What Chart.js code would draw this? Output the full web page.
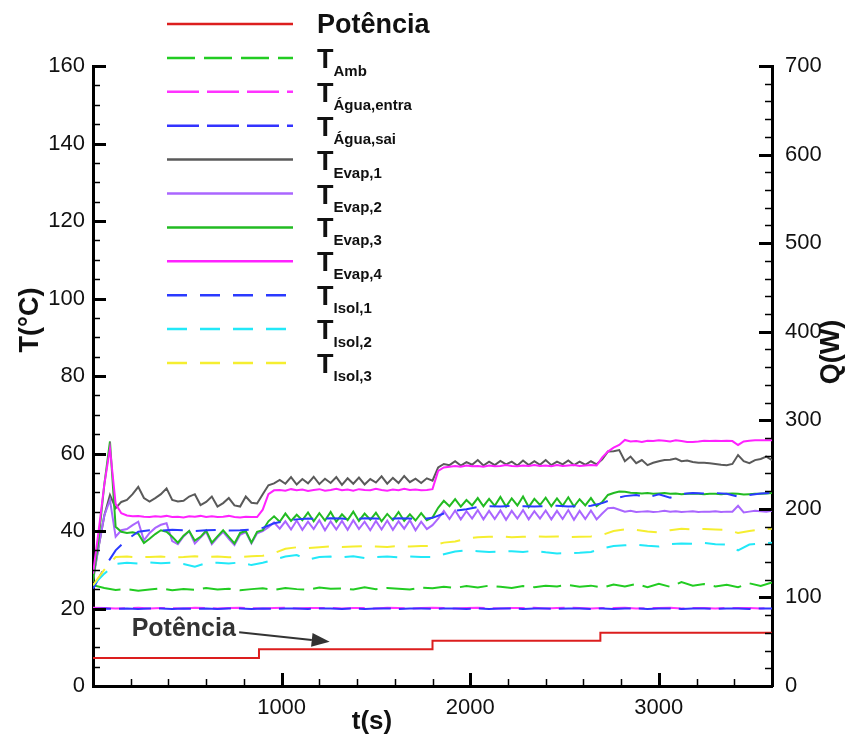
<!DOCTYPE html>
<html>
<head>
<meta charset="utf-8">
<script src="https://cdn.jsdelivr.net/npm/chart.js@4.4.1/dist/chart.umd.min.js"></script>
<style>
  html, body { margin: 0; padding: 0; background: #fff; }
  #wrap { width: 855px; height: 745px; }
</style>
</head>
<body>
<div id="wrap"><canvas id="chart" width="855" height="745"></canvas></div>
<script>
// ========================================
// Dados (t em s, T em °C, Q em W)
// ========================================

// tempos de amostragem
const tFast = [
  0, 30, 60, 90, 120, 150, 180, 210, 240, 270,
  300, 330, 360, 390, 420, 450, 480, 510, 540, 570,
  600, 630, 660, 690, 720, 750, 780, 810, 840, 870,
  900, 930, 960, 990, 1020, 1050, 1080, 1110, 1140, 1170,
  1200, 1230, 1260, 1290, 1320, 1350, 1380, 1410, 1440, 1470,
  1500, 1530, 1560, 1590, 1620, 1650, 1680, 1710, 1740, 1770,
  1800, 1830, 1860, 1890, 1920, 1950, 1980, 2010, 2040, 2070,
  2100, 2130, 2160, 2190, 2220, 2250, 2280, 2310, 2340, 2370,
  2400, 2430, 2460, 2490, 2520, 2550, 2580, 2610, 2640, 2670,
  2700, 2730, 2760, 2790, 2820, 2850, 2880, 2910, 2940, 2970,
  3000, 3030, 3060, 3090, 3120, 3150, 3180, 3210, 3240, 3270,
  3300, 3330, 3360, 3390, 3420, 3450, 3480, 3510, 3540, 3570,
  3600
];
const tSlow = [
  0, 60, 120, 180, 240, 300, 360, 420, 480, 540,
  600, 660, 720, 780, 840, 900, 960, 1020, 1080, 1140,
  1200, 1260, 1320, 1380, 1440, 1500, 1560, 1620, 1680, 1740,
  1800, 1860, 1920, 1980, 2040, 2100, 2160, 2220, 2280, 2340,
  2400, 2460, 2520, 2580, 2640, 2700, 2760, 2820, 2880, 2940,
  3000, 3060, 3120, 3180, 3240, 3300, 3360, 3420, 3480, 3540,
  3600
];
const tPot = [0, 880, 1800, 2690, 3600];

// Potência (W, eixo direito)
const potencia = [31.5, 41.5, 51, 60, 60];

// Temperaturas (°C)
const tAmb = [
  26.0, 25.3, 24.8, 25.0, 24.6, 24.9, 25.2, 24.7, 25.0, 24.8,
  25.3, 24.9, 25.1, 24.7, 25.0, 25.2, 24.8, 25.3, 25.0, 24.9,
  25.4, 25.1, 25.2, 24.9, 25.5, 25.0, 25.3, 25.1, 24.9, 25.4,
  25.2, 25.6, 25.3, 25.8, 25.4, 25.9, 25.6, 25.3, 25.8, 25.5,
  25.9, 25.7, 26.1, 25.6, 25.9, 25.4, 26.2, 25.7, 26.3, 25.5,
  26.4, 25.6, 26.8, 25.9, 26.3, 25.7, 26.1, 25.5, 26.5, 25.8,
  26.7
];
const aguaEntra = [
  20.2, 20.1, 20.0, 20.1, 20.2, 20.0, 20.1, 20.1, 20.0, 20.2,
  20.1, 20.0, 20.1, 20.2, 20.1, 20.0, 20.1, 20.2, 20.0, 20.1,
  20.1, 20.2, 20.0, 20.1, 20.1, 20.0, 20.2, 20.1, 20.0, 20.1,
  20.2, 20.1, 20.0, 20.1, 20.2, 20.1, 20.0, 20.1, 20.1, 20.2,
  20.0, 20.1, 20.2, 20.1, 20.0, 20.1, 20.1, 20.2, 20.0, 20.1,
  20.1, 20.2, 20.0, 20.1, 20.1, 20.0, 20.2, 20.1, 20.1, 20.0,
  20.1
];
const aguaSai = [
  19.9, 20.0, 19.9, 20.0, 19.9, 20.0, 20.0, 19.9, 20.0, 19.9,
  20.0, 19.9, 20.0, 20.0, 19.9, 20.0, 19.9, 20.0, 20.0, 19.9,
  20.0, 20.0, 19.9, 20.0, 19.9, 20.0, 20.0, 19.9, 20.0, 20.0,
  19.9, 20.0, 20.0, 19.9, 20.0, 19.9, 20.0, 20.0, 19.9, 20.0,
  20.0, 19.9, 20.0, 20.0, 19.9, 20.0, 19.9, 20.0, 20.0, 19.9,
  20.0, 20.0, 19.9, 20.0, 20.0, 19.9, 20.0, 20.0, 19.9, 20.0,
  20.0
];
const evap1 = [
  28, 36, 44, 49.3, 45.9, 47.5, 48.0, 49.5, 51.4, 48.5,
  47.6, 48.5, 49.5, 51.0, 48.0, 47.6, 47.8, 48.9, 49.5, 46.7,
  47.5, 48.9, 46.3, 47.2, 48.5, 46.6, 46.3, 48.9, 47.3, 47.1,
  49.5, 51.8, 52.3, 53.2, 52.2, 53.9, 52.0, 53.4, 52.3, 54.0,
  52.1, 53.5, 52.4, 53.9, 51.9, 53.6, 52.2, 53.8, 52.0, 53.4,
  52.5, 54.1, 52.2, 53.7, 52.4, 54.2, 52.6, 53.5, 52.4, 53.6,
  53.0, 56.4, 57.3, 57.0, 58.0, 56.9, 57.8, 57.1, 58.3, 56.9,
  57.9, 57.0, 58.1, 57.2, 57.9, 56.9, 58.2, 57.0, 58.0, 57.1,
  58.3, 57.0, 57.9, 57.2, 58.2, 57.0, 57.9, 57.1, 58.0, 57.2,
  58.5, 60.5, 60.6, 60.9, 58.0, 59.2, 57.5, 58.3, 57.0, 57.6,
  58.0, 58.3, 58.4, 58.7, 58.0, 58.2, 57.8, 57.6, 57.6, 57.5,
  57.3, 57.1, 57.0, 57.3, 59.6, 58.0, 57.5, 58.3, 58.6, 59.2,
  58.3
];
const evap2 = [
  27, 36, 44, 48.0, 38.5, 40.2, 40.5, 41.5, 42.4, 37.6,
  39.5, 40.8, 41.6, 42.0, 37.4, 36.6, 38.6, 40.0, 36.8, 38.3,
  39.8, 36.6, 38.3, 39.8, 38.0, 36.4, 39.0, 39.7, 36.8, 39.4,
  40.0, 41.0, 42.2, 40.6, 42.5, 40.4, 42.7, 40.3, 42.4, 40.5,
  42.8, 40.2, 42.5, 40.4, 42.6, 40.3, 42.8, 40.5, 42.4, 40.2,
  42.6, 40.4, 42.7, 40.3, 42.5, 40.6, 42.8, 40.2, 42.4, 40.5,
  41.5, 43.2, 45.2, 43.1, 45.3, 43.0, 45.1, 43.2, 45.4, 43.0,
  45.2, 43.1, 45.3, 42.9, 45.2, 43.2, 45.4, 43.0, 45.1, 43.2,
  45.3, 43.0, 45.2, 43.1, 45.4, 42.9, 45.2, 43.1, 45.3, 43.0,
  44.5, 45.9, 46.0, 45.5, 45.0, 45.2, 44.9, 45.0, 45.1, 44.9,
  45.0, 45.2, 45.0, 45.1, 44.9, 45.0, 45.1, 44.9, 45.0, 45.0,
  45.1, 44.9, 45.0, 45.0, 46.5, 44.8, 45.0, 45.2, 45.1, 45.0,
  45.2
];
const evap3 = [
  27, 38, 52, 63.1, 41.1, 39.8, 39.5, 39.7, 39.3, 36.9,
  38.0, 39.2, 40.2, 39.8, 38.5, 37.0, 38.8, 40.0, 37.5, 38.5,
  40.1, 37.0, 38.6, 40.2, 38.5, 36.8, 39.5, 40.0, 37.0, 39.8,
  40.2, 42.5, 43.8, 42.4, 44.5, 42.6, 44.2, 42.8, 44.8, 42.5,
  44.6, 42.7, 44.9, 42.4, 44.3, 42.8, 45.0, 42.6, 44.5, 42.9,
  44.7, 42.5, 44.4, 42.8, 44.9, 42.6, 44.3, 42.7, 44.6, 42.8,
  43.5, 46.0, 47.8, 46.4, 48.2, 46.3, 48.0, 46.6, 48.5, 46.4,
  48.3, 46.5, 48.8, 46.3, 48.4, 46.6, 48.9, 46.2, 48.3, 46.7,
  48.6, 46.4, 48.4, 46.5, 48.7, 46.3, 48.2, 46.6, 48.5, 46.4,
  47.5, 49.3, 49.8, 50.2, 50.1, 49.9, 49.8, 49.7, 49.8, 49.6,
  49.7, 49.8, 49.6, 49.7, 49.5, 49.6, 49.7, 49.6, 49.5, 49.6,
  49.6, 49.5, 49.6, 49.7, 49.6, 49.4, 49.5, 49.6, 49.6, 49.7,
  49.8
];
const evap4 = [
  29, 40, 52, 61.3, 47.0, 44.6, 44.0, 43.8, 43.9, 43.7,
  43.6, 43.8, 43.7, 43.9, 43.6, 43.7, 43.5, 43.8, 43.7, 43.9,
  43.6, 43.8, 43.6, 43.7, 43.9, 43.6, 43.5, 43.7, 43.6, 43.6,
  45.5, 49.5, 50.5, 50.6, 50.4, 50.8, 50.5, 50.7, 50.3, 50.6,
  50.8, 50.4, 50.6, 50.9, 50.5, 50.7, 50.4, 50.8, 50.6, 50.5,
  50.9, 50.6, 50.4, 50.7, 50.5, 50.9, 50.6, 50.7, 50.5, 50.6,
  50.8, 55.5, 56.4, 56.6, 56.8, 56.6, 56.9, 56.7, 56.8, 56.6,
  56.9, 56.7, 56.8, 57.0, 56.8, 56.7, 56.9, 56.8, 57.0, 56.8,
  56.9, 56.7, 57.0, 56.8, 56.9, 57.0, 56.8, 56.9, 57.0, 56.9,
  59.0, 60.5, 61.5, 62.2, 63.5, 63.1, 63.2, 63.0, 63.3, 63.2,
  63.4, 63.3, 63.1, 63.4, 63.2, 63.0, 63.0, 63.1, 63.3, 63.2,
  63.3, 63.2, 63.3, 63.2, 62.2, 63.1, 63.3, 63.4, 63.4, 63.4,
  63.4
];
const isol1 = [
  25.0, 30.5, 35.0, 37.8, 39.8, 40.2, 40.1, 40.3, 40.2, 40.0,
  40.2, 40.3, 40.1, 40.2, 40.4, 40.8, 42.0, 42.6, 43.0, 43.2,
  43.1, 43.3, 43.2, 43.0, 43.3, 43.2, 43.1, 43.3, 43.2, 43.0,
  43.4, 44.5, 45.2, 45.6, 46.2, 46.4, 46.3, 46.5, 46.4, 46.3,
  46.4, 46.5, 46.3, 46.4, 46.5, 47.2, 48.3, 49.0, 49.3, 48.6,
  49.5, 48.6, 49.6, 49.8, 49.7, 49.8, 49.6, 48.9, 49.3, 49.7,
  49.8
];
const isol2 = [
  26.0, 29.0, 31.5, 31.8, 31.6, 31.9, 31.7, 31.8, 31.5, 30.8,
  31.7, 31.8, 31.6, 31.9, 31.2, 31.8, 32.6, 33.4, 33.8, 32.6,
  33.3, 33.4, 33.2, 33.5, 33.0, 33.3, 33.4, 33.2, 33.4, 33.3,
  33.3, 34.0, 34.7, 35.0, 34.8, 34.6, 34.7, 34.8, 34.6, 34.9,
  34.5, 34.2, 34.3, 34.4, 34.6, 35.5, 36.1, 36.3, 36.5, 36.2,
  36.0, 36.6, 36.8, 36.7, 36.9, 36.6, 36.5, 35.0, 36.5, 36.8,
  37.0
];
const isol3 = [
  26.0, 30.0, 33.3, 33.4, 33.2, 33.3, 33.4, 33.2, 33.3, 33.5,
  33.3, 33.4, 33.2, 33.3, 33.5, 33.6, 34.3, 35.4, 35.8, 35.6,
  35.8, 36.0, 35.9, 36.0, 36.1, 36.0, 35.9, 36.1, 36.0, 36.1,
  36.2, 37.0, 37.3, 38.0, 38.4, 38.5, 38.6, 38.4, 38.5, 38.6,
  38.5, 38.6, 38.4, 38.5, 38.6, 39.0, 40.0, 40.4, 40.3, 39.9,
  39.6, 40.2, 40.6, 40.4, 40.5, 40.4, 40.3, 39.5, 40.0, 40.4,
  40.6
];

// Ticks e legendas
const xTicks = [1000, 2000, 3000];
const yTicks = [0, 20, 40, 60, 80, 100, 120, 140, 160];
const qTicks = [0, 100, 200, 300, 400, 500, 600, 700];
const legendMain = ['Potência', 'T', 'T', 'T', 'T', 'T', 'T', 'T', 'T', 'T', 'T'];
const legendSub = ['', 'Amb', 'Água,entra', 'Água,sai', 'Evap,1', 'Evap,2', 'Evap,3', 'Evap,4', 'Isol,1', 'Isol,2', 'Isol,3'];

// Estilos das séries
const series = [
  { t: tPot,  v: potencia,  color: '#dc1e1e', dash: [],       axis: 'y1', stepped: true },
  { t: tSlow, v: tAmb,      color: '#22cc22', dash: [28, 9] },
  { t: tSlow, v: aguaEntra, color: '#ff33ff', dash: [32, 8] },
  { t: tSlow, v: aguaSai,   color: '#3333ff', dash: [32, 8], offset: 14 },
  { t: tFast, v: evap1,     color: '#5a5a5a', dash: [] },
  { t: tFast, v: evap2,     color: '#aa66ff', dash: [] },
  { t: tFast, v: evap3,     color: '#22bb22', dash: [] },
  { t: tFast, v: evap4,     color: '#ff22ff', dash: [] },
  { t: tSlow, v: isol1,     color: '#2a3aff', dash: [20, 13] },
  { t: tSlow, v: isol2,     color: '#22e8f8', dash: [20, 13] },
  { t: tSlow, v: isol3,     color: '#f5ee30', dash: [20, 13] }
];

const FONT = "'Liberation Sans', Arial, Helvetica, sans-serif";
Chart.defaults.font.family = FONT;

// Ticks, títulos, anotação e legenda desenhados à mão
const decorPlugin = {
  id: 'decor',
  afterDraw(chart) {
    const ctx = chart.ctx;
    const { left, right, bottom } = chart.chartArea;
    const xS = chart.scales.x, yS = chart.scales.y, qS = chart.scales.y1;

    ctx.save();
    ctx.strokeStyle = '#000';
    ctx.setLineDash([]);
    ctx.lineCap = 'butt';
    const tick = (x1, y1, x2, y2, w) => {
      ctx.lineWidth = w;
      ctx.beginPath(); ctx.moveTo(x1, y1); ctx.lineTo(x2, y2); ctx.stroke();
    };
    for (let v = 0; v <= 160; v += 5) {
      const py = Math.round(yS.getPixelForValue(v)) + 0.5;
      const major = v % 20 === 0;
      tick(left, py, left + (major ? 13 : 7), py, major ? 3 : 1.5);
    }
    for (let v = 0; v <= 700; v += 20) {
      const py = Math.round(qS.getPixelForValue(v)) + 0.5;
      const major = v % 100 === 0;
      tick(right, py, right - (major ? 13 : 7), py, major ? 3 : 1.5);
    }
    for (let v = 200; v < 3600; v += 200) {
      const px = Math.round(xS.getPixelForValue(v)) + 0.5;
      const major = v % 1000 === 0;
      tick(px, bottom, px, bottom - (major ? 13 : 7), major ? 3 : 1.5);
    }

    // títulos dos eixos
    ctx.fillStyle = '#111';
    ctx.textAlign = 'center';
    ctx.textBaseline = 'middle';
    ctx.font = 'bold 27px ' + FONT;
    ctx.save(); ctx.translate(31, 320); ctx.rotate(-Math.PI / 2); ctx.fillText('T(°C)', 0, 0); ctx.restore();
    ctx.save(); ctx.translate(832, 352); ctx.rotate(-Math.PI / 2); ctx.fillText('Q(W)', 0, 0); ctx.restore();
    ctx.font = 'bold 26px ' + FONT;
    ctx.fillText('t(s)', 372, 722);

    // anotação "Potência" com seta
    ctx.fillStyle = '#333';
    ctx.strokeStyle = '#333';
    ctx.font = 'bold 25px ' + FONT;
    ctx.textAlign = 'left';
    ctx.textBaseline = 'alphabetic';
    ctx.fillText('Potência', xS.getPixelForValue(205), yS.getPixelForValue(12.9));
    const ax1 = xS.getPixelForValue(775), ay1 = yS.getPixelForValue(13.9);
    const ax2 = xS.getPixelForValue(1255), ay2 = yS.getPixelForValue(11.4);
    const ang = Math.atan2(ay2 - ay1, ax2 - ax1);
    const hl = 18, hw = 7;
    const bx = ax2 - hl * Math.cos(ang), by = ay2 - hl * Math.sin(ang);
    tick(ax1, ay1, bx, by, 2);
    ctx.beginPath();
    ctx.moveTo(ax2, ay2);
    ctx.lineTo(bx + hw * Math.sin(ang), by - hw * Math.cos(ang));
    ctx.lineTo(bx - hw * Math.sin(ang), by + hw * Math.cos(ang));
    ctx.closePath();
    ctx.fill();

    // legenda
    const rowY0 = 24, rowH = 33.9, lx1 = 167, lx2 = 293, tx = 317;
    series.forEach((s, i) => {
      const y = rowY0 + i * rowH;
      ctx.strokeStyle = s.color;
      ctx.lineWidth = 2.5;
      ctx.setLineDash(s.dash);
      ctx.beginPath(); ctx.moveTo(lx1, y); ctx.lineTo(lx2, y); ctx.stroke();
      ctx.setLineDash([]);
      ctx.fillStyle = '#111';
      if (!legendSub[i]) {
        ctx.font = 'bold 27px ' + FONT;
        ctx.fillText(legendMain[i], tx, y + 9);
      } else {
        ctx.font = 'bold 27px ' + FONT;
        ctx.fillText(legendMain[i], tx, y + 10);
        const w = ctx.measureText(legendMain[i]).width;
        ctx.font = 'bold 15px ' + FONT;
        ctx.fillText(legendSub[i], tx + w, y + 18);
      }
    });
    ctx.restore();
  }
};

const tickFont = { size: 22, family: FONT };
const plainLabel = v => String(v);

new Chart(document.getElementById('chart'), {
  type: 'line',
  data: {
    datasets: series.map((s, i) => ({
      label: legendMain[i] + (legendSub[i] ? ' ' + legendSub[i] : ''),
      data: s.t.map((t, k) => ({ x: t, y: s.v[k] })),
      yAxisID: s.axis || 'y',
      borderColor: s.color,
      borderWidth: 2,
      borderDash: s.dash,
      borderDashOffset: s.offset || 0,
      stepped: s.stepped || false,
      pointRadius: 0,
      tension: 0,
      fill: false,
      order: series.length - i
    }))
  },
  options: {
    responsive: false,
    animation: false,
    devicePixelRatio: 1,
    layout: { padding: { top: 66, left: 0, right: 0, bottom: 0 } },
    plugins: { legend: { display: false }, tooltip: { enabled: false } },
    scales: {
      x: {
        type: 'linear',
        position: 'bottom',
        min: 0,
        max: 3600,
        grid: { display: false, drawTicks: false },
        border: { display: true, color: '#000', width: 3 },
        ticks: { font: tickFont, color: '#111', padding: 9, maxRotation: 0, autoSkip: false, callback: plainLabel },
        afterBuildTicks: s => { s.ticks = xTicks.map(v => ({ value: v })); },
        afterFit: s => { s.height = 59; }
      },
      y: {
        position: 'left',
        min: 0,
        max: 160,
        grid: { display: false, drawTicks: false },
        border: { display: true, color: '#000', width: 3 },
        ticks: { font: tickFont, color: '#111', padding: 8, autoSkip: false, callback: plainLabel },
        afterBuildTicks: s => { s.ticks = yTicks.map(v => ({ value: v })); },
        afterFit: s => { s.width = 93; }
      },
      y1: {
        position: 'right',
        min: 0,
        max: 700,
        grid: { display: false, drawTicks: false },
        border: { display: true, color: '#000', width: 3 },
        ticks: { font: tickFont, color: '#111', padding: 13, autoSkip: false, callback: plainLabel },
        afterBuildTicks: s => { s.ticks = qTicks.map(v => ({ value: v })); },
        afterFit: s => { s.width = 83; }
      }
    }
  },
  plugins: [decorPlugin]
});
</script>
</body>
</html>
